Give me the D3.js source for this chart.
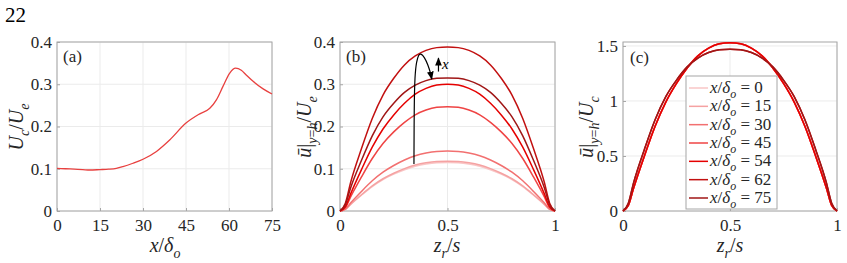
<!DOCTYPE html>
<html lang="en">
<head>
<meta charset="utf-8">
<script src="https://cdn.jsdelivr.net/npm/d3@7"></script>
<style>
  body { margin: 0; background: #fff; }
</style>
</head>
<body>
<div id="chart"></div>
<script>
// panel (a): centreline velocity along the streamwise direction
const xA  = [0, 3, 6, 9, 11.4, 15, 18, 20.7, 23, 26.5, 30, 34.7, 39.3, 45, 49.8, 53.3, 55.6, 57.9, 60.2, 62.3, 64.3, 66, 68.4, 71.9, 75]
const ucA = [0.101, 0.100, 0.099, 0.098, 0.097, 0.098, 0.099, 0.101, 0.105, 0.113, 0.1225, 0.141, 0.168, 0.208, 0.230, 0.243, 0.263, 0.295, 0.326, 0.338, 0.333, 0.322, 0.307, 0.289, 0.277]

// spanwise profiles (normalised by Uc)
const zr     = [0, 0.025, 0.05, 0.1, 0.15, 0.2, 0.25, 0.3, 0.35, 0.4, 0.45, 0.5, 0.55, 0.6, 0.65, 0.7, 0.75, 0.8, 0.85, 0.9, 0.95, 0.975, 1]
const shapeA = [0, 0.05, 0.21, 0.50, 0.77, 0.99, 1.16, 1.30, 1.41, 1.48, 1.52, 1.53, 1.52, 1.48, 1.41, 1.30, 1.16, 0.99, 0.77, 0.50, 0.21, 0.05, 0]
const shapeB = [0, 0.07, 0.26, 0.56, 0.83, 1.04, 1.19, 1.31, 1.39, 1.44, 1.465, 1.47, 1.465, 1.44, 1.39, 1.31, 1.19, 1.04, 0.83, 0.56, 0.26, 0.07, 0]

// stations
const stations = [0, 15, 30, 45, 54, 62, 75]
const peakUe   = [0.115, 0.118, 0.142, 0.247, 0.300, 0.388, 0.315]   // peak of u/Ue in panel b
const shapeOf  = ['A', 'A', 'A', 'A', 'A', 'B', 'B']
const colors   = ['#f9c6c6', '#f5a2a2', '#f27070', '#ef4444', '#e50000', '#c21010', '#a01616']

// annotation arrow in panel b (z, u)
const arrowZ = [0.344, 0.345, 0.348, 0.356, 0.366, 0.375, 0.392, 0.410, 0.422, 0.427]
const arrowU = [0.111, 0.250, 0.320, 0.355, 0.370, 0.373, 0.365, 0.345, 0.325, 0.312]

const w = 847
const h = 263
const plotTop = 42, plotBottom = 211
const fs = 17
const FONT = '"Liberation Serif"'

const svg = d3.select('#chart').append('svg')
              .attr('width', w).attr('height', h)

svg.append('defs').append('marker')
   .attr('id', 'head').attr('viewBox', '0 0 10 10')
   .attr('refX', 9).attr('refY', 5)
   .attr('markerWidth', 7).attr('markerHeight', 7)
   .attr('orient', 'auto')
   .append('path').attr('d', 'M0,1 L10,5 L0,9 Z').attr('fill', '#000')

function txt(parent) {
  return parent.append('text').style('font-family', FONT).attr('fill', '#262626')
}

txt(svg).attr('x', 5).attr('y', 22).attr('font-size', 21).attr('fill', '#000').text('22')

// writes a LaTeX-ish label out of pieces
function mathText(sel, parts, size) {
  let prev = 0
  parts.forEach(function(p) {
    const shift = p.sub ? size * 0.3 : 0
    sel.append('tspan')
       .text(p.t)
       .style('font-family', FONT)
       .attr('font-style', p.it ? 'italic' : 'normal')
       .attr('font-size', p.sub ? size * 0.7 : size)
       .attr('dy', shift - prev)
    prev = shift
  })
}

function panel(x0, x1, xDomain, yDomain, xTicks, yTicks) {
  const g = svg.append('g')
  const sx = d3.scaleLinear().domain(xDomain).range([x0, x1])
  const sy = d3.scaleLinear().domain(yDomain).range([plotBottom, plotTop])

  // grid
  g.append('g').selectAll('line').data(xTicks).enter().append('line')
   .attr('x1', d => sx(d)).attr('x2', d => sx(d))
   .attr('y1', plotTop).attr('y2', plotBottom)
   .attr('stroke', '#ebebeb')
  g.append('g').selectAll('line').data(yTicks).enter().append('line')
   .attr('y1', d => sy(d)).attr('y2', d => sy(d))
   .attr('x1', x0).attr('x2', x1)
   .attr('stroke', '#ebebeb')

  const ax = g.append('g').attr('transform', 'translate(0,' + plotBottom + ')')
              .call(d3.axisBottom(sx).tickValues(xTicks).tickFormat(d3.format('')).tickSizeInner(-3).tickSizeOuter(0).tickPadding(8))
  const ay = g.append('g').attr('transform', 'translate(' + x0 + ',0)')
              .call(d3.axisLeft(sy).tickValues(yTicks).tickFormat(d3.format('')).tickSizeInner(-3).tickSizeOuter(0).tickPadding(5))
  ;[ax, ay].forEach(function(a) {
    a.attr('font-family', null)
    a.select('.domain').remove()
    a.selectAll('line').attr('stroke', '#a6a6a6')
    a.selectAll('text').attr('font-size', fs).attr('fill', '#262626')
      .style('font-family', FONT)
  })
  ax.selectAll('text').attr('dy', '0.72em')

  g.append('rect').attr('x', x0).attr('y', plotTop)
   .attr('width', x1 - x0).attr('height', plotBottom - plotTop)
   .attr('fill', 'none').attr('stroke', '#a6a6a6')

  return { g: g, sx: sx, sy: sy }
}

// ---------- (a)
const pa = panel(57, 272, [0, 75], [0, 0.4], [0, 15, 30, 45, 60, 75], [0, 0.1, 0.2, 0.3, 0.4])
pa.g.append('path')
   .datum(xA.map((x, i) => [x, ucA[i]]))
   .attr('d', d3.line().x(d => pa.sx(d[0])).y(d => pa.sy(d[1])).curve(d3.curveMonotoneX))
   .attr('fill', 'none').attr('stroke', '#e8403f').attr('stroke-width', 1.3)
txt(svg).attr('x', 63).attr('y', 62).attr('font-size', fs).text('(a)')

mathText(txt(svg).attr('x', 165).attr('y', 252).attr('text-anchor', 'middle'),
  [{t: 'x', it: true}, {t: '/'}, {t: 'δ', it: true}, {t: 'o', it: true, sub: true}], 20)
mathText(txt(svg).attr('transform', 'translate(23,127) rotate(-90)').attr('text-anchor', 'middle'),
  [{t: 'U', it: true}, {t: 'c', it: true, sub: true}, {t: '/'}, {t: 'U', it: true}, {t: 'e', it: true, sub: true}], 20)

// ---------- (b)
const pb = panel(340, 555, [0, 1], [0, 0.4], [0, 0.5, 1], [0, 0.1, 0.2, 0.3, 0.4])
const lineB = d3.line().x(d => pb.sx(d[0])).y(d => pb.sy(d[1])).curve(d3.curveMonotoneX)
stations.forEach(function(s, i) {
  const shp = shapeOf[i] === 'A' ? shapeA : shapeB
  const pk = d3.max(shp)
  pb.g.append('path')
     .datum(zr.map((z, j) => [z, shp[j] / pk * peakUe[i]]))
     .attr('d', lineB)
     .attr('fill', 'none').attr('stroke', colors[i]).attr('stroke-width', 1.5)
})
pb.g.append('path')
   .datum(arrowZ.map((z, j) => [z, arrowU[j]]))
   .attr('d', d3.line().x(d => pb.sx(d[0])).y(d => pb.sy(d[1])).curve(d3.curveBasis))
   .attr('fill', 'none').attr('stroke', '#000').attr('stroke-width', 1.2)
   .attr('marker-end', 'url(#head)')
pb.g.append('line')
   .attr('x1', pb.sx(0.458)).attr('x2', pb.sx(0.458))
   .attr('y1', pb.sy(0.33)).attr('y2', pb.sy(0.362))
   .attr('stroke', '#000').attr('stroke-width', 1.2)
   .attr('marker-end', 'url(#head)')
txt(pb.g).attr('x', pb.sx(0.474)).attr('y', pb.sy(0.335))
   .attr('font-size', 15).attr('font-style', 'italic').attr('fill', '#000').text('x')
txt(svg).attr('x', 346).attr('y', 62).attr('font-size', fs).text('(b)')

mathText(txt(svg).attr('x', 447).attr('y', 252).attr('text-anchor', 'middle'),
  [{t: 'z', it: true}, {t: 'r', it: true, sub: true}, {t: '/'}, {t: 's', it: true}], 20)
mathText(txt(svg).attr('transform', 'translate(311,127) rotate(-90)').attr('text-anchor', 'middle'),
  [{t: 'ū', it: true}, {t: '|'}, {t: 'y', it: true, sub: true}, {t: '=', sub: true}, {t: 'h', it: true, sub: true}, {t: '/'}, {t: 'U', it: true}, {t: 'e', it: true, sub: true}], 20)

// ---------- (c)
const pc = panel(623, 837, [0, 1], [0, 1.536], [0, 0.5, 1], [0, 0.5, 1, 1.5])
const lineC = d3.line().x(d => pc.sx(d[0])).y(d => pc.sy(d[1])).curve(d3.curveMonotoneX)
stations.forEach(function(s, i) {
  const shp = shapeOf[i] === 'A' ? shapeA : shapeB
  pc.g.append('path')
     .datum(zr.map((z, j) => [z, shp[j]]))
     .attr('d', lineC)
     .attr('fill', 'none').attr('stroke', colors[i]).attr('stroke-width', 1.5)
})
txt(svg).attr('x', 630).attr('y', 63).attr('font-size', fs).text('(c)')

mathText(txt(svg).attr('x', 730).attr('y', 252).attr('text-anchor', 'middle'),
  [{t: 'z', it: true}, {t: 'r', it: true, sub: true}, {t: '/'}, {t: 's', it: true}], 20)
mathText(txt(svg).attr('transform', 'translate(593,127) rotate(-90)').attr('text-anchor', 'middle'),
  [{t: 'ū', it: true}, {t: '|'}, {t: 'y', it: true, sub: true}, {t: '=', sub: true}, {t: 'h', it: true, sub: true}, {t: '/'}, {t: 'U', it: true}, {t: 'c', it: true, sub: true}], 20)

// legend
const leg = svg.append('g')
leg.append('rect').attr('x', 686).attr('y', 76).attr('width', 91).attr('height', 133)
   .attr('fill', '#fff').attr('stroke', '#a6a6a6')
const ly = d3.scalePoint().domain(stations).range([88, 198])
stations.forEach(function(s, i) {
  leg.append('line').attr('x1', 689).attr('x2', 708)
     .attr('y1', ly(s)).attr('y2', ly(s))
     .attr('stroke', colors[i]).attr('stroke-width', 1.5)
  mathText(txt(leg).attr('x', 710).attr('y', ly(s) + 5),
    [{t: 'x', it: true}, {t: '/'}, {t: 'δ', it: true}, {t: 'o', it: true, sub: true}, {t: ' = ' + s}], 17)
})
</script>
</body>
</html>
